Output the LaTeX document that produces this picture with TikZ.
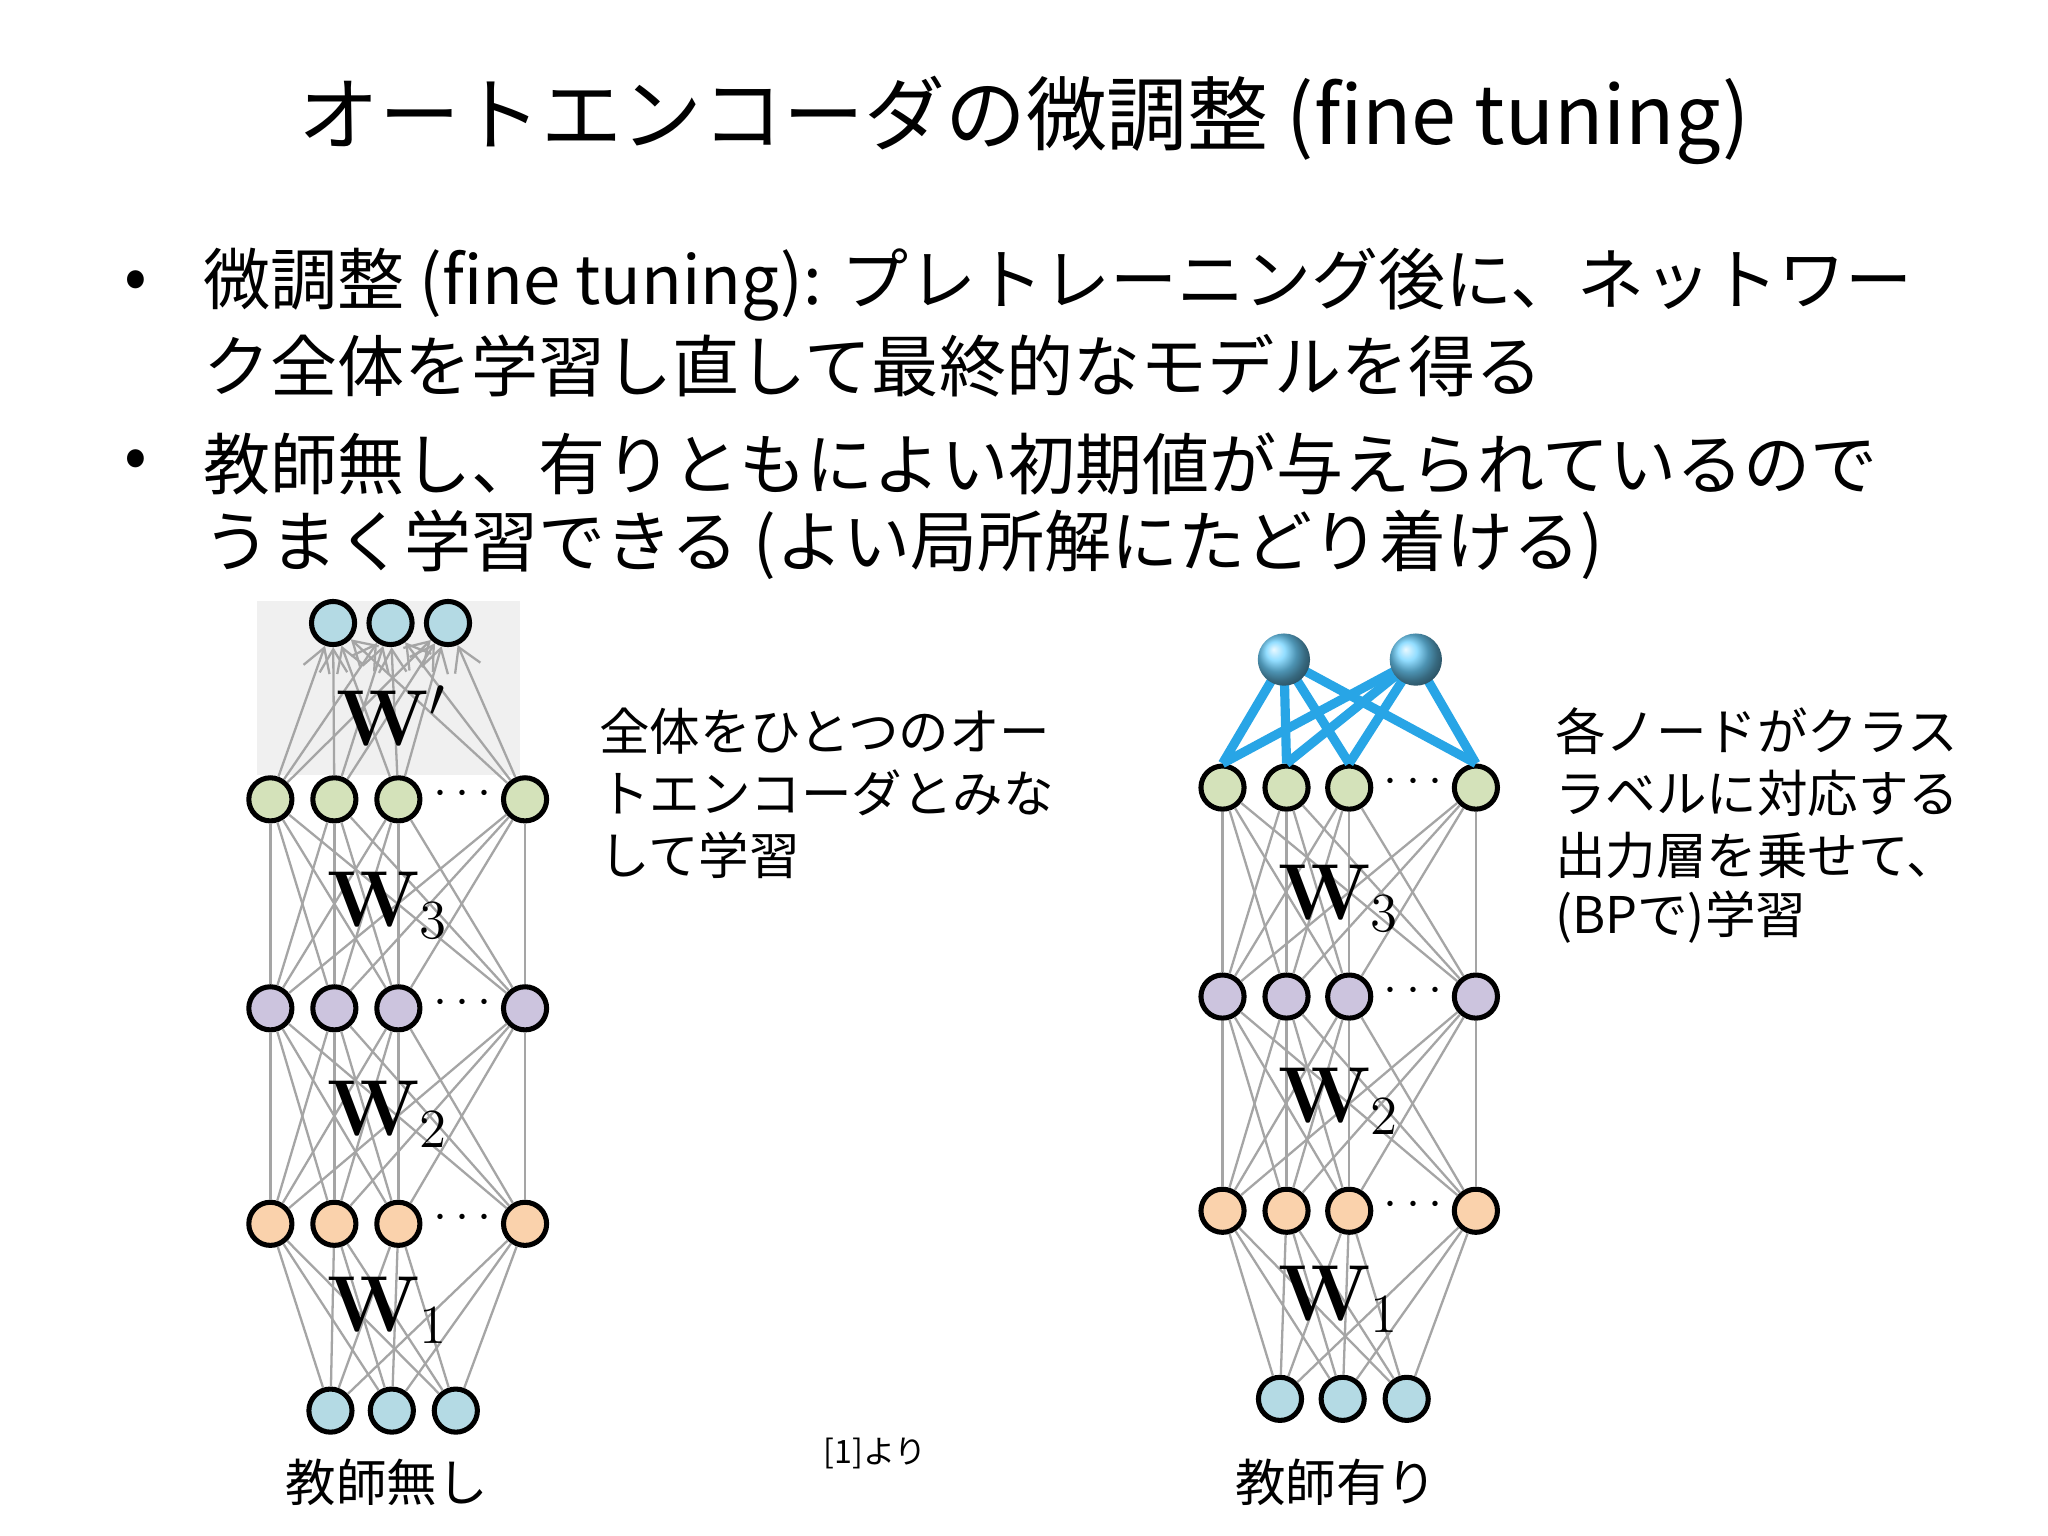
\documentclass[tikz,border=0pt]{standalone}
\usepackage[no-math]{fontspec}
\setmainfont{Noto Sans CJK JP}
\usetikzlibrary{arrows.meta,shadings}
\definecolor{nblue}{RGB}{180,218,228}
\definecolor{ngreen}{RGB}{212,226,186}
\definecolor{npurple}{RGB}{204,196,222}
\definecolor{norange}{RGB}{250,210,172}
\definecolor{ball}{RGB}{110,210,255}
\definecolor{bline}{RGB}{40,165,230}
\definecolor{edge}{RGB}{165,165,165}
\tikzset{
 neu/.style={circle,draw=black,line width=1.1pt,minimum size=0.33cm,inner sep=0pt},
 con/.style={draw=edge,line width=0.5pt},
 wlab/.style={font=\fontsize{18}{20}\selectfont,inner sep=0pt},
 body/.style={font=\fontsize{14.6}{16}\selectfont,anchor=west,inner sep=0pt},
 side/.style={font=\fontsize{11}{13}\selectfont,anchor=west,inner sep=0pt},
 dots/.style={font=\fontsize{11}{11}\selectfont,inner sep=1pt,fill=white},
}
\begin{document}
\begin{tikzpicture}[x=0.01cm,y=-0.01cm]
\useasboundingbox (0,0) rectangle (1568,1176);
\fill[white] (0,0) rectangle (1568,1176);
\node[font=\fontsize{17.6}{20}\selectfont] (title) at (784,92) {オートエンコーダの微調整 (fine tuning)};
\node[body] (b1) at (95,218) {•};
\node[body] (t1) at (155,218) {微調整 (fine tuning): プレトレーニング後に、ネットワー};
\node[body] (t2) at (155,280) {ク全体を学習し直して最終的なモデルを得る};
\node[body] (b2) at (95,355) {•};
\node[body] (t3) at (155,355) {教師無し、有りともによい初期値が与えられているので};
\node[body] (t4) at (155,417) {うまく学習できる (よい局所解にたどり着ける)};
% left network
\fill[black!6] (197,460) rectangle (398,593);
\foreach \n/\y/\c in {G/612/ngreen,P/772/npurple,O/937/norange}{
  \foreach \i/\x in {1/207,2/256,3/305,4/402}{\node[neu,fill=\c] (L\n\i) at (\x,\y) {};}
}
\foreach \i/\x in {1/253,2/300,3/349}{\node[neu,fill=nblue] (LI\i) at (\x,1080) {};}
\foreach \i/\x in {1/255,2/299,3/343}{\node[neu,fill=nblue] (LT\i) at (\x,477) {};}
\foreach \a in {1,2,3,4}{\foreach \b in {1,2,3,4}{
  \draw[con] (LG\a) -- (LP\b); \draw[con] (LP\a) -- (LO\b);}}
\foreach \a in {1,2,3}{\foreach \b in {1,2,3,4}{\draw[con] (LI\a) -- (LO\b);
  \draw[con,-{Straight Barb[length=5pt,width=6pt]}] (LG\b) -- (LT\a);}}
\foreach \n/\y in {G/612,P/772,O/937}{\node[dots] (L\n d) at (354,\y-4) {$\cdots$};}
\node[wlab] (Wp) at (300,548) {$\mathbf{W}'$};
\node[wlab] (LW3) at (297,693) {$\mathbf{W}_3$};
\node[wlab] (LW2) at (297,853) {$\mathbf{W}_2$};
\node[wlab] (LW1) at (297,1003) {$\mathbf{W}_1$};
% right network
\foreach \n/\y/\c in {G/603/ngreen,P/763/npurple,O/927/norange}{
  \foreach \i/\x in {1/936,2/985,3/1033,4/1130}{\node[neu,fill=\c] (R\n\i) at (\x,\y) {};}
}
\foreach \i/\x in {1/980,2/1028,3/1077}{\node[neu,fill=nblue] (RI\i) at (\x,1071) {};}
\foreach \a in {1,2,3,4}{\foreach \b in {1,2,3,4}{
  \draw[con] (RG\a) -- (RP\b); \draw[con] (RP\a) -- (RO\b);}}
\foreach \a in {1,2,3}{\foreach \b in {1,2,3,4}{\draw[con] (RI\a) -- (RO\b);}}
\foreach \n/\y in {G/603,P/763,O/927}{\node[dots] (R\n d) at (1082,\y-4) {$\cdots$};}
\coordinate (B1) at (983,505); \coordinate (B2) at (1084,505);
\foreach \a in {1,2}{\foreach \b in {1,2,3,4}{\draw[bline,line width=2pt] (B\a) -- (RG\b.north);}}
\foreach \a in {1,2}{\shade[ball color=ball] (B\a) circle (20);}
\node[wlab] (RW3) at (1025,688) {$\mathbf{W}_3$};
\node[wlab] (RW2) at (1025,843) {$\mathbf{W}_2$};
\node[wlab] (RW1) at (1025,995) {$\mathbf{W}_1$};
% side texts
\node[side] (s1) at (458,560) {全体をひとつのオー};
\node[side] (s2) at (458,607) {トエンコーダとみな};
\node[side] (s3) at (458,655) {して学習};
\node[side] (r1) at (1190,560) {各ノードがクラス};
\node[side] (r2) at (1190,607) {ラベルに対応する};
\node[side] (r3) at (1190,655) {出力層を乗せて、};
\node[side] (r4) at (1190,702) {(BPで)学習};
\node[font=\fontsize{11}{13}\selectfont] (c1) at (296,1135) {教師無し};
\node[font=\fontsize{11}{13}\selectfont] (c2) at (1023,1135) {教師有り};
\node[font=\fontsize{7}{8}\selectfont] (ref) at (670,1113) {[1]より};
\end{tikzpicture}
\end{document}
